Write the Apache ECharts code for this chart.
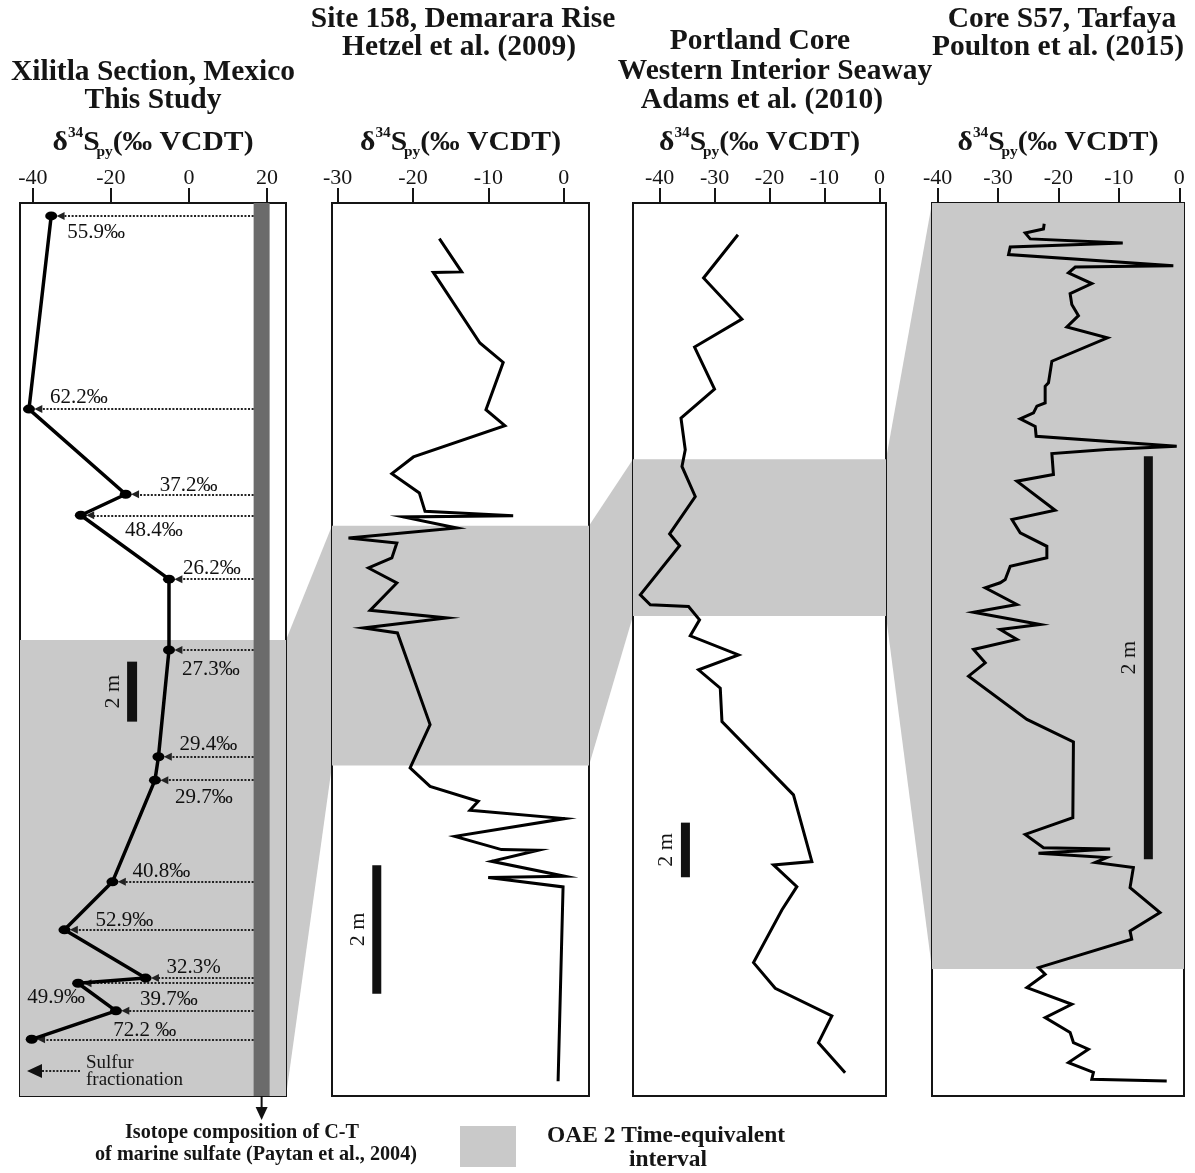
<!DOCTYPE html>
<html><head><meta charset="utf-8">
<script src="https://cdn.jsdelivr.net/npm/echarts@6/dist/echarts.min.js"></script>
<style>html,body{margin:0;padding:0;background:#fff}#c{width:1195px;height:1173px}</style>
</head><body><div id="c"></div>
<script>
// ---------------- DATA ----------------
// Panel 1: Xilitla Section (this study) — d34S pyrite (‰ VCDT) vs depth from top of panel (m)
const xilitlaD34S  = [-35.3,-41.0,-16.2,-27.7,-5.1,-5.1,-7.8,-8.7,-19.6,-31.9,-11.1,-28.4,-18.7,-40.3];
const xilitlaDepth = [0.43,6.87,9.71,10.41,12.54,14.9,18.46,19.24,22.63,24.23,25.84,26.01,26.93,27.88];
const xilitlaFrac  = ['55.9‰','62.2‰','37.2‰','48.4‰','26.2‰','27.3‰','29.4‰','29.7‰','40.8‰','52.9‰','32.3%','49.9‰','39.7‰','72.2 ‰'];
const sulfateRange = [16.6, 20.7];           // C-T marine sulfate d34S (Paytan et al., 2004)

// Panel 2: Site 158, Demerara Rise (Hetzel et al. 2009)
const demD34S  = [-16.5,-13.54,-17.3,-11.12,-8.03,-10.32,-7.81,-19.94,-22.8,-19.15,-18.4,-6.71,-21.27,-14.2,-28.55,-22.14,-22.8,-25.9,-22.14,-25.68,-15.52,-26.56,-22.06,-17.73,-20.38,-17.73,-11.34,-12.44,0.13,-14.43,-8.25,-3.4,-9.57,0.13,-10.02,-0.09,-0.75];
const demDepth = [0.555,1.072,1.08,2.177,2.479,3.215,3.463,3.95,4.21,4.51,4.796,4.863,4.883,5.054,5.21,5.288,5.521,5.677,5.91,6.336,6.454,6.61,6.687,8.113,8.787,9.073,9.306,9.446,9.575,9.851,10.057,10.068,10.24,10.473,10.49,10.638,13.661];

// Panel 3: Portland Core, WIS (Adams et al. 2010)
const porD34S  = [-25.75,-32.0,-25.02,-33.64,-30.0,-36.11,-35.33,-35.93,-33.51,-38.18,-36.36,-43.51,-41.69,-34.73,-32.73,-34.42,-25.64,-32.91,-28.96,-28.65,-15.64,-12.29,-19.27,-15.02,-17.75,-22.91,-18.96,-8.65,-11.09,-6.24];
const porDepth = [1.161,2.747,4.249,5.275,6.813,7.875,9.037,9.648,10.747,12.114,12.553,14.348,14.714,14.777,15.264,15.85,16.546,17.095,17.766,18.989,21.674,24.117,24.238,25.033,25.886,27.817,28.755,29.769,30.747,31.846];

// Panel 4: Core S57, Tarfaya (Poulton et al. 2015)
const tarD34S  = [-22.36,-22.48,-25.5,-24.68,-9.36,-27.98,-28.26,-0.99,-17.22,-18.35,-14.48,-18.07,-17.79,-16.69,-18.61,-11.9,-21.09,-21.65,-22.2,-22.2,-23.57,-24.13,-26.33,-23.85,-23.69,-0.43,-12.0,-21.09,-20.83,-26.88,-20.55,-27.7,-26.33,-21.92,-21.92,-27.98,-28.81,-29.64,-32.12,-26.88,-34.05,-23.02,-29.64,-26.88,-34.05,-32.12,-34.88,-25.22,-17.52,-17.62,-25.5,-22.48,-11.45,-23.31,-12.0,-13.93,-7.6,-8.15,-3.19,-8.15,-7.87,-23.31,-22.2,-25.22,-17.79,-22.2,-18.07,-17.52,-15.04,-18.35,-14.21,-14.48,-2.08];
const tarDepth = [0.103,0.129,0.149,0.178,0.198,0.218,0.256,0.311,0.318,0.347,0.4,0.45,0.504,0.559,0.615,0.669,0.785,0.892,0.909,0.992,1.008,1.041,1.071,1.108,1.157,1.207,1.223,1.243,1.347,1.38,1.524,1.57,1.636,1.703,1.76,1.802,1.868,1.884,1.909,1.992,2.03,2.091,2.116,2.165,2.215,2.281,2.347,2.562,2.674,3.049,3.132,3.198,3.205,3.226,3.247,3.272,3.297,3.396,3.52,3.611,3.652,3.793,3.826,3.892,3.975,4.041,4.115,4.165,4.198,4.264,4.313,4.347,4.355];

// OAE 2 time-equivalent intervals (depth, m)
const oaeXilitla = [14.57, 29.77];
const oaeDemerara = [5.02, 8.75];
const oaePortland = [9.38, 15.12];
const oaeTarfaya = [0, 3.80];

// Tick labels
const ticksXilitla = [-40,-20,0,20];
const ticksDemerara = [-30,-20,-10,0];
const ticksPortland = [-40,-30,-20,-10,0];
const ticksTarfaya = [-40,-30,-20,-10,0];

// ---------------- LAYOUT / STYLE ----------------
const FONT = '"Liberation Serif", "Times New Roman", serif';
const INK = '#151515';
const OAE = '#c9c9c9';
const SULF = '#6b6b6b';

// label offsets [dx, dy] (px) for the fractionation labels
const fracLabelOffsets = [[45,17],[50,-12],[63,-9],[73,15],[43,-11],[42,20],[50,-12],[49,17],[49,-10],[60,-9],[48,-11],[-22,14],[53,-11],[113,-9]];

const panels = [
  {grid:{left:20, top:203, width:266, height:893}, x:[-43.3,24.9],  ticks:ticksXilitla,  depth:29.77, oae:oaeXilitla,  scaleBar:[-14.56,15.29], barW:10},
  {grid:{left:332,top:203, width:257, height:893}, x:[-30.74,3.35], ticks:ticksDemerara, depth:13.89, oae:oaeDemerara, scaleBar:[-24.8,10.30], barW:9},
  {grid:{left:633,top:203, width:253, height:893}, x:[-44.84,1.2],  ticks:ticksPortland, depth:32.7,  oae:oaePortland, scaleBar:[-35.3,22.69], barW:9},
  {grid:{left:932,top:203, width:252, height:893}, x:[-40.93,0.78], ticks:ticksTarfaya,  depth:4.43,  oae:oaeTarfaya,  scaleBar:[-5.12,1.256], barW:9}
];

const zip = (a,b) => a.map((v,i)=>[v,b[i]]);

const chart = echarts.init(document.getElementById('c'), null, {renderer:'canvas'});

const series = [];
// OAE bands per panel (+ sulfate bar in panel 1)
panels.forEach((p,i)=>{
  const areas = [[{coord:[p.x[0], p.oae[0]], itemStyle:{color:OAE}}, {coord:[p.x[1], p.oae[1]]}]];
  if (i===0) areas.push([{coord:[sulfateRange[0], 0], itemStyle:{color:SULF}}, {coord:[sulfateRange[1], p.depth]}]);
  series.push({type:'line', xAxisIndex:i, yAxisIndex:i, data:[[p.x[0],0]], symbol:'none', lineStyle:{opacity:0}, z:1, silent:true,
    markArea:{silent:true, data:areas, itemStyle:{color:OAE, borderWidth:0}}});
});

// Panel 1 fractionation arrows + labels
const arrowGap = 2.4; // value units between arrow tip and point centre
series.push({
  type:'scatter', xAxisIndex:0, yAxisIndex:0, z:3, silent:true,
  symbolSize:1, itemStyle:{color:'rgba(0,0,0,0)'},
  data: xilitlaD34S.map((v,i)=>({value:[v, xilitlaDepth[i]], label:{offset:fracLabelOffsets[i]}})),
  label:{show:true, position:'inside', formatter:(p)=>xilitlaFrac[p.dataIndex], fontFamily:FONT, fontSize:21, color:'#111', opacity:1},
  markLine:{silent:true, symbol:['none','triangle'], symbolSize:8, animation:false,
    itemStyle:{color:'#222', opacity:1},
    lineStyle:{type:[2,1.6], color:'#222', width:2, opacity:1},
    label:{show:false},
    emphasis:{disabled:true},
    data: xilitlaD34S.map((v,i)=>[{coord:[sulfateRange[0], xilitlaDepth[i]]},{coord:[v+arrowGap, xilitlaDepth[i]]}])
  }
});
// Panel 1 profile
series.push({type:'line', xAxisIndex:0, yAxisIndex:0, z:5, data:zip(xilitlaD34S, xilitlaDepth),
  symbol:'circle', symbolSize:[12,9], itemStyle:{color:'#000'}, lineStyle:{color:'#000', width:3.5}});
// Other profiles
[[demD34S,demDepth],[porD34S,porDepth],[tarD34S,tarDepth]].forEach((d,k)=>{
  series.push({type:'line', xAxisIndex:k+1, yAxisIndex:k+1, z:5, data:zip(d[0],d[1]), symbol:'none',
    lineStyle:{color:'#000', width:3, join:'miter'}});
});

chart.setOption({
  animation:false,
  backgroundColor:'#fff',
  grid: panels.map(p=>Object.assign({show:true, borderColor:INK, borderWidth:2, backgroundColor:'#fff'}, p.grid)),
  xAxis: panels.map((p,i)=>({type:'value', gridIndex:i, position:'top', min:p.x[0], max:p.x[1],
    splitLine:{show:false},
    axisLine:{show:true, onZero:false, lineStyle:{color:INK, width:2}},
    axisTick:{show:true, customValues:p.ticks, length:15, inside:false, lineStyle:{color:INK, width:2}},
    axisLabel:{customValues:p.ticks, margin:14, fontFamily:FONT, fontSize:22, color:INK}})),
  yAxis: panels.map((p,i)=>({type:'value', gridIndex:i, inverse:true, min:0, max:p.depth, show:false})),
  series
});

// ---------------- annotations (via library coordinate conversion) ----------------
const mctx = document.createElement('canvas').getContext('2d');
function measure(text, font){ mctx.font = font; return mctx.measureText(text).width; }
function scaledText(text, cx, cy, font, s){
  return {type:'text', x:cx, y:cy, scaleX:s, z:50,
    style:{text, font, fill:INK, align:'center', verticalAlign:'middle', textAlign:'center', textVerticalAlign:'middle'}};
}
const TITLE_FONT = 'bold 29px ' + FONT;
const titleScale = 284 / measure('Xilitla Section, Mexico', TITLE_FONT);
const title = (t, cx, cy) => scaledText(t, cx, cy, TITLE_FONT, titleScale);
const LEG1_FONT = 'bold 21px ' + FONT;
const leg1Scale = 322 / measure('of marine sulfate (Paytan et al., 2004)', LEG1_FONT);
const LEG2_FONT = 'bold 24px ' + FONT;
const leg2Scale = 238 / measure('OAE 2 Time-equivalent', LEG2_FONT);

function isoTitle(cx, cy, width){
  const segs = [{t:'δ',s:27,dy:0},{t:'34',s:14,dy:-10},{t:'S',s:27,dy:0},{t:'py',s:14,dy:9,back:3},{t:'(‰ VCDT)',s:27,dy:0}];
  let x = 0; const kids = [];
  segs.forEach(g=>{
    const font = 'bold ' + g.s + 'px ' + FONT;
    x -= (g.back||0);
    kids.push({type:'text', x:x, y:g.dy, style:{text:g.t, font, fill:INK, align:'left', verticalAlign:'middle', textAlign:'left', textVerticalAlign:'middle'}});
    x += measure(g.t, font);
  });
  const s = width / x;
  kids.forEach(k=>{k.x -= x/2;});
  return {type:'group', x:cx, y:cy, scaleX:s, z:50, children:kids};
}

const px = (gi, v, d) => chart.convertToPixel({gridIndex:gi}, [v, d]);
const g = [];
// connecting OAE trapezoids
for (let i=0;i<3;i++){
  const a = panels[i], b = panels[i+1];
  const p1 = px(i, a.x[1], a.oae[0]), p4 = px(i, a.x[1], a.oae[1]);
  const p2 = px(i+1, b.x[0], b.oae[0]), p3 = px(i+1, b.x[0], b.oae[1]);
  g.push({type:'polygon', z:-1, silent:true, shape:{points:[p1,p2,p3,p4]}, style:{fill:OAE}});
}
// scale bars
panels.forEach((p,i)=>{
  const t = px(i, p.scaleBar[0], p.scaleBar[1]);
  const b = px(i, p.scaleBar[0], p.scaleBar[1]+2);
  g.push({type:'rect', z:40, shape:{x:t[0]-p.barW/2, y:t[1], width:p.barW, height:b[1]-t[1]}, style:{fill:'#111'}});
  g.push({type:'text', z:40, x:t[0]-19, y:(t[1]+b[1])/2, rotation:Math.PI/2,
    style:{text:'2 m', font:'22px '+FONT, fill:INK, align:'center', verticalAlign:'middle', textAlign:'center', textVerticalAlign:'middle'}});
});
// sulfate arrow below panel 1
const sb = px(0, (sulfateRange[0]+sulfateRange[1])/2, panels[0].depth);
g.push({type:'line', z:40, shape:{x1:sb[0], y1:sb[1], x2:sb[0], y2:sb[1]+14}, style:{stroke:'#111', lineWidth:2}});
g.push({type:'polygon', z:40, shape:{points:[[sb[0]-6,sb[1]+11],[sb[0]+6,sb[1]+11],[sb[0],sb[1]+24]]}, style:{fill:'#111'}});
// sulfur fractionation key (inside panel 1)
g.push({type:'polygon', z:40, shape:{points:[[27,1071],[42,1064],[42,1078]]}, style:{fill:'#111'}});
g.push({type:'line', z:40, shape:{x1:42, y1:1071, x2:80, y2:1071}, style:{stroke:'#222', lineWidth:2, lineDash:[2,1.6]}});
g.push({type:'text', z:40, x:86, y:1063, style:{text:'Sulfur', font:'19px '+FONT, fill:'#151515', align:'left', verticalAlign:'middle', textAlign:'left', textVerticalAlign:'middle'}});
g.push({type:'text', z:40, x:86, y:1080, style:{text:'fractionation', font:'19px '+FONT, fill:'#151515', align:'left', verticalAlign:'middle', textAlign:'left', textVerticalAlign:'middle'}});
// titles
g.push(title('Xilitla Section, Mexico', 153, 73));
g.push(title('This Study', 153, 101));
g.push(title('Site 158, Demarara Rise', 463, 20));
g.push(title('Hetzel et al. (2009)', 459, 48));
g.push(title('Portland Core', 760, 42));
g.push(title('Western Interior Seaway', 775, 72));
g.push(title('Adams et al. (2010)', 762, 101));
g.push(title('Core S57, Tarfaya', 1062, 20));
g.push(title('Poulton et al. (2015)', 1058, 48));
// axis titles
panels.forEach(p=>{ g.push(isoTitle(p.grid.left + p.grid.width/2, 143, 201)); });
// bottom legend
g.push(scaledText('Isotope composition of C-T', 242, 1133, LEG1_FONT, leg1Scale));
g.push(scaledText('of marine sulfate (Paytan et al., 2004)', 256, 1155, LEG1_FONT, leg1Scale));
g.push({type:'rect', z:40, shape:{x:460, y:1126, width:56, height:41}, style:{fill:OAE}});
g.push(scaledText('OAE 2 Time-equivalent', 666, 1136, LEG2_FONT, leg2Scale));
g.push(scaledText('interval', 668, 1160, LEG2_FONT, leg2Scale));

chart.setOption({graphic:{elements:g}});
</script>
</body></html>
